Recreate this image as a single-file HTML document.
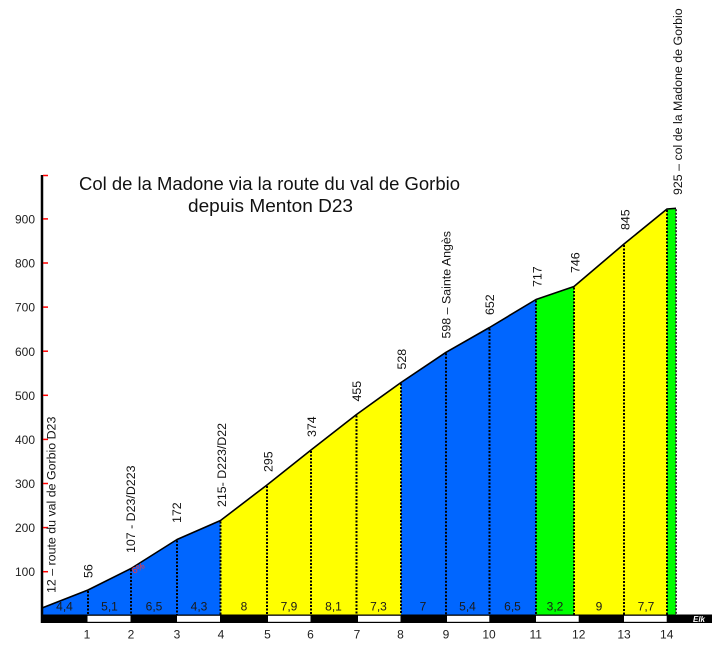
<!DOCTYPE html>
<html>
<head>
<meta charset="utf-8">
<style>
html,body{margin:0;padding:0;background:#fff;}
svg{display:block;}
text{font-family:"Liberation Sans",Arial,sans-serif;}
</style>
</head>
<body>
<svg width="724" height="662" viewBox="0 0 724 662" xmlns="http://www.w3.org/2000/svg">
<rect width="724" height="662" fill="#fff"/>

<!-- colored segments -->
<g stroke="none">
<polygon points="42,608 88,590 88,615 42,615" fill="#0066ff"/>
<polygon points="88,590 131,568.5 131,615 88,615" fill="#0066ff"/>
<polygon points="131,568.5 177,539.5 177,615 131,615" fill="#0066ff"/>
<polygon points="177,539.5 220.5,520.5 220.5,615 177,615" fill="#0066ff"/>
<polygon points="220.5,520.5 267,485 267,615 220.5,615" fill="#ffff00"/>
<polygon points="267,485 311,450 311,615 267,615" fill="#ffff00"/>
<polygon points="311,450 356.5,414.5 356.5,615 311,615" fill="#ffff00"/>
<polygon points="356.5,414.5 401,382.5 401,615 356.5,615" fill="#ffff00"/>
<polygon points="401,382.5 446,352.3 446,615 401,615" fill="#0066ff"/>
<polygon points="446,352.3 489.5,327.5 489.5,615 446,615" fill="#0066ff"/>
<polygon points="489.5,327.5 536,299.5 536,615 489.5,615" fill="#0066ff"/>
<polygon points="536,299.5 574,286.5 574,615 536,615" fill="#00ff00"/>
<polygon points="574,286.5 624,244 624,615 574,615" fill="#ffff00"/>
<polygon points="624,244 667,209 667,615 624,615" fill="#ffff00"/>
<polygon points="667,209 676,208.3 676,615 667,615" fill="#00ff00"/>
</g>

<!-- dotted km lines -->
<g stroke="#000" stroke-width="2" stroke-dasharray="2 1.5" fill="none">
<line x1="88" y1="591" x2="88" y2="615"/>
<line x1="131" y1="569.5" x2="131" y2="615"/>
<line x1="177" y1="540.5" x2="177" y2="615"/>
<line x1="220.5" y1="521.5" x2="220.5" y2="615"/>
<line x1="267" y1="486" x2="267" y2="615"/>
<line x1="311" y1="451" x2="311" y2="615"/>
<line x1="356.5" y1="415.5" x2="356.5" y2="615"/>
<line x1="401" y1="383.5" x2="401" y2="615"/>
<line x1="446" y1="353.3" x2="446" y2="615"/>
<line x1="489.5" y1="328.5" x2="489.5" y2="615"/>
<line x1="536" y1="300.5" x2="536" y2="615"/>
<line x1="574" y1="287.5" x2="574" y2="615"/>
<line x1="624" y1="245" x2="624" y2="615"/>
<line x1="667" y1="210" x2="667" y2="615"/>
<line x1="676" y1="209.3" x2="676" y2="615" stroke="#333"/>
</g>

<!-- profile line -->
<polyline points="42,608 88,590 131,568.5 177,539.5 220.5,520.5 267,485 311,450 356.5,414.5 401,382.5 446,352.3 489.5,327.5 536,299.5 574,286.5 624,244 667,209 676,208.3" fill="none" stroke="#000" stroke-width="1.6" stroke-linejoin="round"/>

<!-- bottom bar -->
<rect x="41" y="614.5" width="671" height="8.5" fill="#000"/>
<g fill="#fff">
<rect x="87.5" y="615.8" width="43" height="6"/>
<rect x="177" y="615.8" width="43" height="6"/>
<rect x="268" y="615.8" width="42.5" height="6"/>
<rect x="358" y="615.8" width="42.5" height="6"/>
<rect x="447" y="615.8" width="42.3" height="6"/>
<rect x="536" y="615.8" width="42.7" height="6"/>
<rect x="624" y="615.8" width="42.7" height="6"/>
</g>
<text x="693" y="622" font-size="8" font-style="italic" font-weight="bold" fill="#fff">Elk</text>

<!-- y axis -->
<line x1="42" y1="175" x2="42" y2="623" stroke="#000" stroke-width="2.5"/>
<g stroke="#ff0000" stroke-width="1.5">
<line x1="43" y1="571.7" x2="48" y2="571.7"/>
<line x1="43" y1="527.6" x2="48" y2="527.6"/>
<line x1="43" y1="483.5" x2="48" y2="483.5"/>
<line x1="43" y1="439.4" x2="48" y2="439.4"/>
<line x1="43" y1="395.3" x2="48" y2="395.3"/>
<line x1="43" y1="351.2" x2="48" y2="351.2"/>
<line x1="43" y1="307.1" x2="48" y2="307.1"/>
<line x1="43" y1="263" x2="48" y2="263"/>
<line x1="43" y1="218.9" x2="48" y2="218.9"/>
<line x1="43" y1="175.5" x2="48" y2="175.5"/>
</g>
<g font-size="12" fill="#222" text-anchor="end">
<text x="35" y="576">100</text>
<text x="35" y="532">200</text>
<text x="35" y="488">300</text>
<text x="35" y="444">400</text>
<text x="35" y="400">500</text>
<text x="35" y="356">600</text>
<text x="35" y="311.5">700</text>
<text x="35" y="267.5">800</text>
<text x="35" y="223.5">900</text>
</g>

<!-- km labels -->
<g font-size="12" fill="#222" text-anchor="middle">
<text x="87" y="638.5">1</text>
<text x="131" y="638.5">2</text>
<text x="177" y="638.5">3</text>
<text x="221" y="638.5">4</text>
<text x="267.5" y="638.5">5</text>
<text x="310.5" y="638.5">6</text>
<text x="357" y="638.5">7</text>
<text x="400.5" y="638.5">8</text>
<text x="446" y="638.5">9</text>
<text x="489" y="638.5">10</text>
<text x="535.7" y="638.5">11</text>
<text x="578.7" y="638.5">12</text>
<text x="624" y="638.5">13</text>
<text x="666.7" y="638.5">14</text>
</g>

<!-- gradient labels -->
<g font-size="12" fill="#1a1a1a" text-anchor="middle">
<text x="64.5" y="610.5">4,4</text>
<text x="109.5" y="610.5">5,1</text>
<text x="154" y="610.5">6,5</text>
<text x="199" y="610.5">4,3</text>
<text x="244" y="610.5">8</text>
<text x="289" y="610.5">7,9</text>
<text x="333.5" y="610.5">8,1</text>
<text x="378.5" y="610.5">7,3</text>
<text x="423" y="610.5">7</text>
<text x="467.5" y="610.5">5,4</text>
<text x="512.5" y="610.5">6,5</text>
<text x="555" y="610.5">3,2</text>
<text x="599" y="610.5">9</text>
<text x="646" y="610.5">7,7</text>
</g>

<!-- red 6% -->
<text x="134" y="574" font-size="9" fill="#ff3333" transform="rotate(-30 134 574)">6%</text>

<!-- vertical labels -->
<g font-size="12.4" fill="#111">
<text transform="translate(55.5,593) rotate(-90)">12 – route du val de Gorbio D23</text>
<text transform="translate(92.5,578) rotate(-90)">56</text>
<text transform="translate(135,553) rotate(-90)">107 - D23/D223</text>
<text transform="translate(181,523) rotate(-90)">172</text>
<text transform="translate(226,507) rotate(-90)">215- D223/D22</text>
<text transform="translate(272.5,472) rotate(-90)">295</text>
<text transform="translate(316,437) rotate(-90)">374</text>
<text transform="translate(361,401.5) rotate(-90)">455</text>
<text transform="translate(406,369.5) rotate(-90)">528</text>
<text transform="translate(450.5,338.5) rotate(-90)">598 – Sainte Angès</text>
<text transform="translate(494,315) rotate(-90)">652</text>
<text transform="translate(541.5,287) rotate(-90)">717</text>
<text transform="translate(579.5,273) rotate(-90)">746</text>
<text transform="translate(629.5,230) rotate(-90)">845</text>
<text transform="translate(682,195) rotate(-90)">925 – col de la Madone de Gorbio</text>
</g>

<!-- title -->
<text x="79" y="190" font-size="18" fill="#111" textLength="381" lengthAdjust="spacingAndGlyphs">Col de la Madone via la route du val de Gorbio</text>
<text x="188" y="212" font-size="18" fill="#111" textLength="165" lengthAdjust="spacingAndGlyphs">depuis Menton D23</text>
</svg>
</body>
</html>
